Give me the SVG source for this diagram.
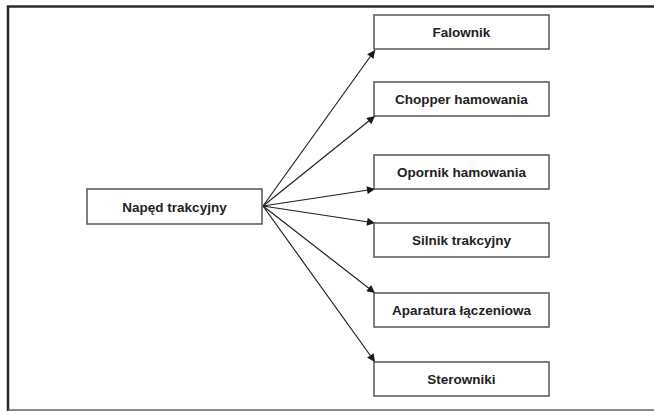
<svg xmlns="http://www.w3.org/2000/svg" width="654" height="411" viewBox="0 0 654 411">
<style>
.box{fill:#fff;stroke:#555;stroke-width:1.5}
.lbl{font-family:"Liberation Sans",Arial,sans-serif;font-weight:bold;font-size:13.5px;fill:#222;text-anchor:middle}
.edge{stroke:#222;stroke-width:1.2;fill:none;marker-end:url(#arr)}
</style>
<defs>
<marker id="arr" viewBox="0 0 10 10" refX="10" refY="5" markerWidth="10" markerHeight="8" markerUnits="userSpaceOnUse" orient="auto">
<path d="M0,0 L10,5 L0,10 z" fill="#1a1a1a"/>
</marker>
</defs>
<rect width="654" height="411" fill="#fff"/>
<path d="M8,411 V6.5 H654" fill="none" stroke="#2a2a2a" stroke-width="2.5"/>
<line x1="8" y1="410" x2="654" y2="410" stroke="#666" stroke-width="1.5"/>
<g id="connectors">
<line class="edge" x1="263" y1="206" x2="375" y2="50"/>
<line class="edge" x1="263" y1="206" x2="375" y2="116"/>
<line class="edge" x1="263" y1="206" x2="375" y2="189"/>
<line class="edge" x1="263" y1="206" x2="375" y2="223"/>
<line class="edge" x1="263" y1="206" x2="375" y2="293"/>
<line class="edge" x1="263" y1="206" x2="375" y2="362"/>
</g>
<g id="naped"><rect class="box" x="87" y="189" width="175" height="35"/><text class="lbl" x="174.5" y="211.5">Napęd trakcyjny</text></g>
<g id="falownik"><rect class="box" x="374" y="15" width="175" height="34"/><text class="lbl" x="461.5" y="37">Falownik</text></g>
<g id="chopper"><rect class="box" x="374" y="82" width="175" height="34"/><text class="lbl" x="461.5" y="104">Chopper hamowania</text></g>
<g id="opornik"><rect class="box" x="374" y="155" width="175" height="34"/><text class="lbl" x="461.5" y="177">Opornik hamowania</text></g>
<g id="silnik"><rect class="box" x="374" y="223" width="175" height="34"/><text class="lbl" x="461.5" y="245">Silnik trakcyjny</text></g>
<g id="aparatura"><rect class="box" x="374" y="293" width="175" height="34"/><text class="lbl" x="461.5" y="315">Aparatura łączeniowa</text></g>
<g id="sterowniki"><rect class="box" x="374" y="362" width="175" height="34"/><text class="lbl" x="461.5" y="384">Sterowniki</text></g>
</svg>
